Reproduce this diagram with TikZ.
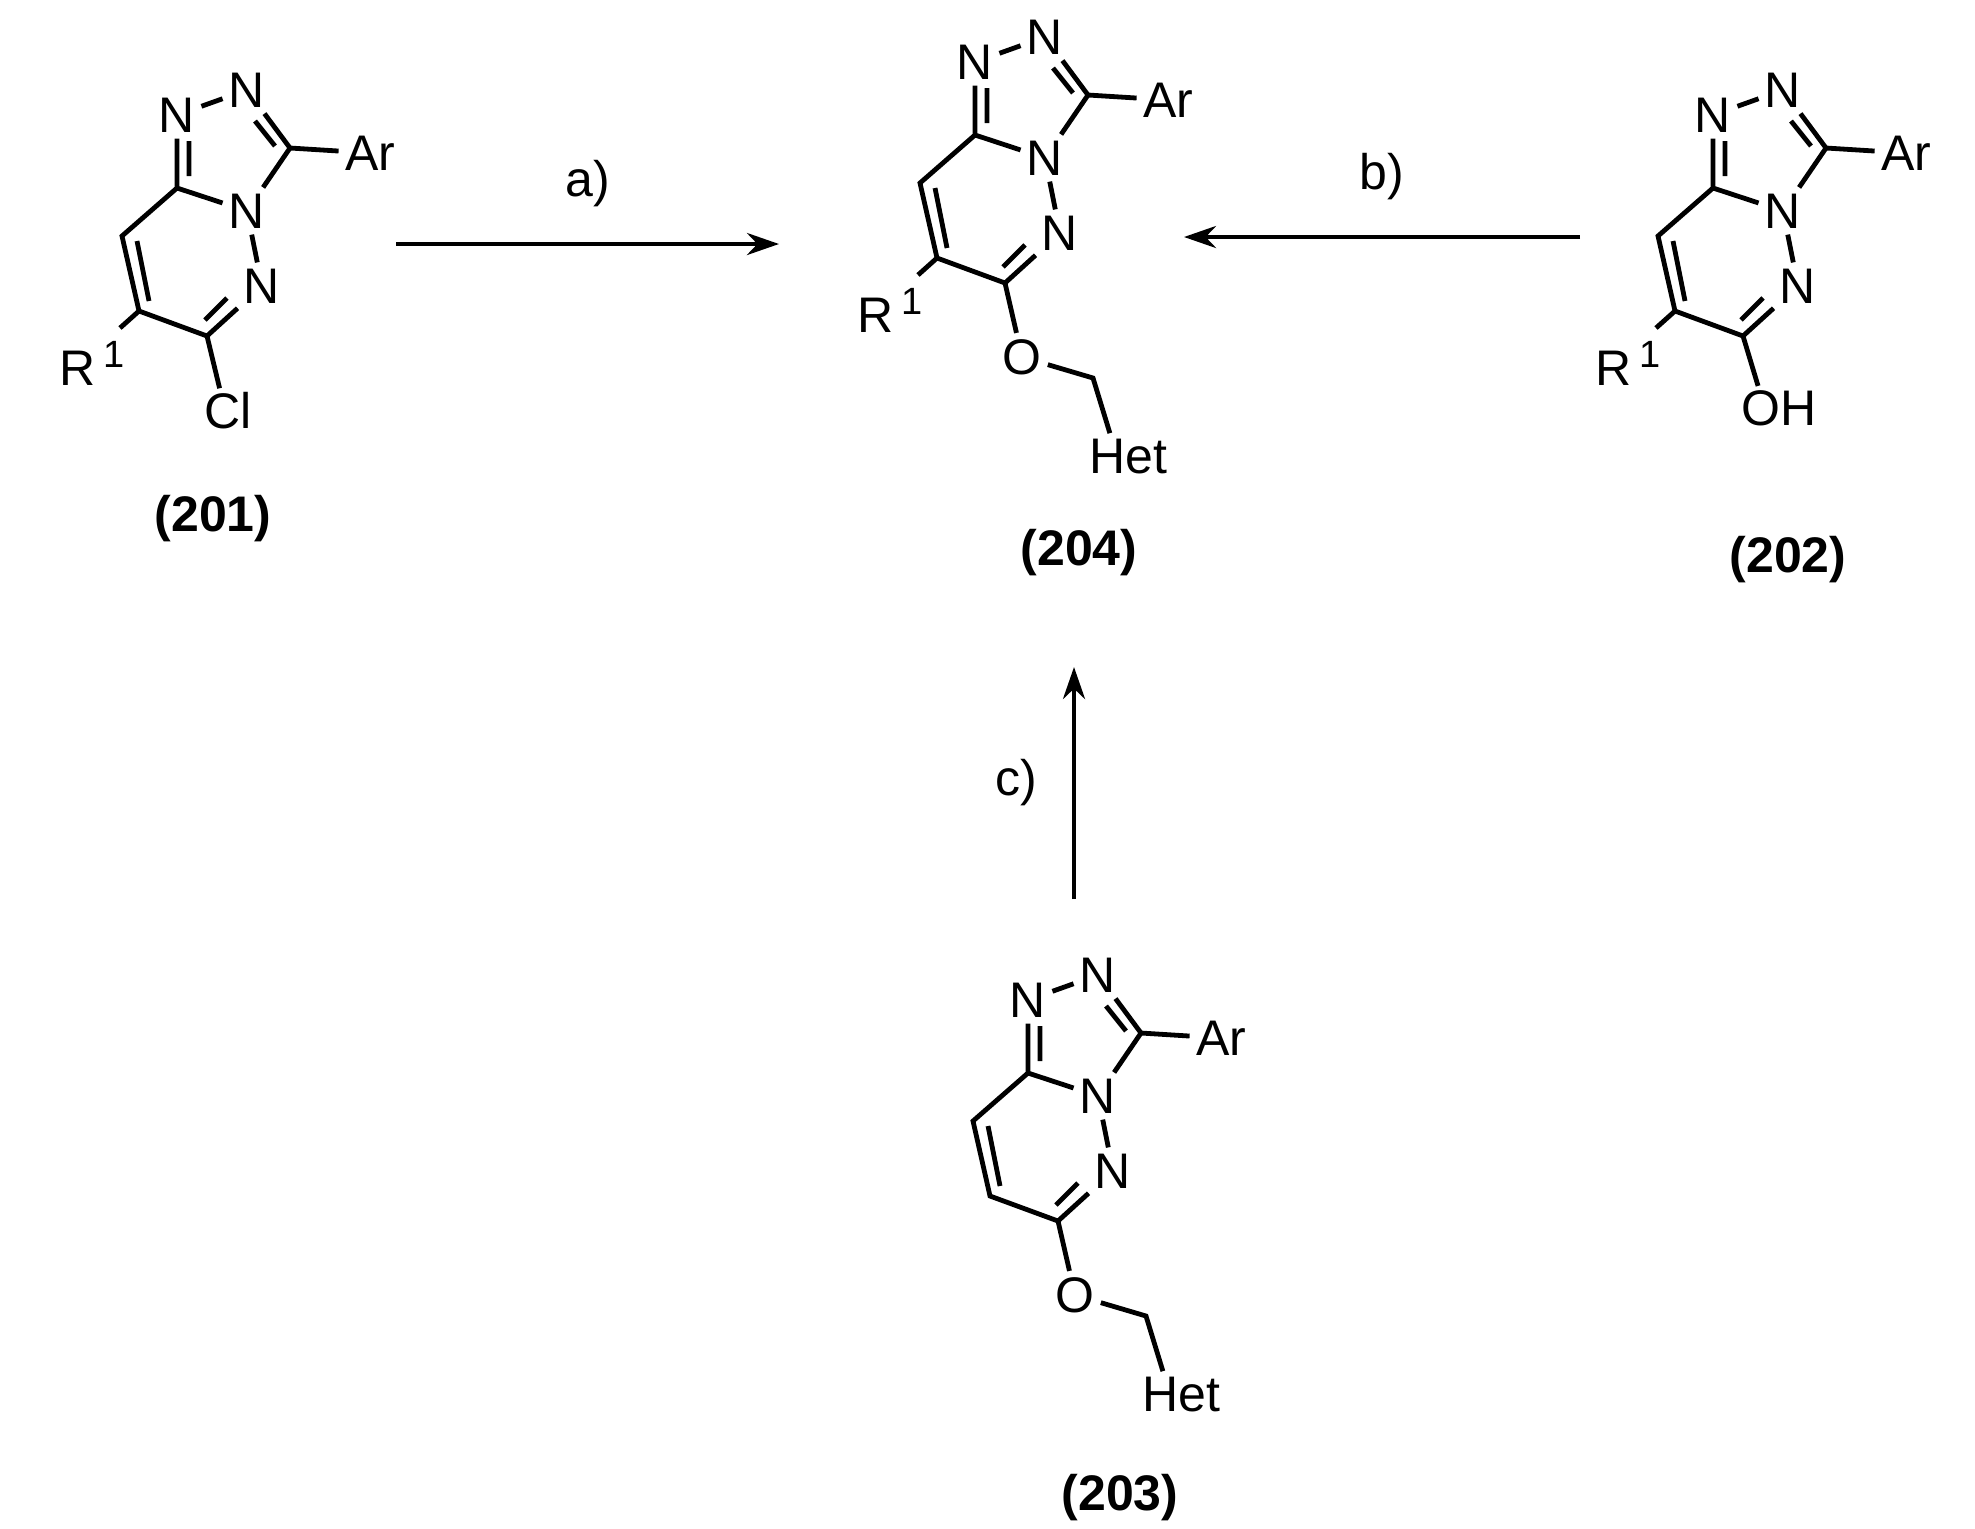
\documentclass[tikz,border=0pt]{standalone}
\usepackage{fontspec}
\setmainfont{Liberation Sans}
\usetikzlibrary{calc,arrows.meta}
\tikzset{atom/.style={inner sep=2pt,font=\fontsize{25}{30}\selectfont},
 lbl/.style={font=\bfseries\fontsize{25}{30}\selectfont},
 cond/.style={font=\fontsize{25}{30}\selectfont},
 bond/.style={line width=2.4pt},
 rxn/.style={line width=2.2pt,-{Stealth[length=16pt,width=11pt]}}}
\newcommand\core[3]{%
\begin{scope}[shift={(#2,#3)},bond]
\coordinate (#1a) at (0,0);
\node[atom] (#1n1) at (0,-73) {N};
\node[atom] (#1n2) at (70,-98) {N};
\coordinate (#1c3) at (113,-40);
\node[atom] (#1ar) at (193,-35) {Ar};
\node[atom] (#1n4) at (70,23) {N};
\node[atom] (#1n5) at (85,98) {N};
\coordinate (#1c6) at (30,148);
\coordinate (#1c7) at (-38,123);
\coordinate (#1c8) at (-55,48);
\draw (#1a)--(#1n1) (#1n1)--(#1n2) (#1n2)--(#1c3)--(#1ar) (#1c3)--(#1n4)--(#1a)
  (#1n4)--(#1n5)--(#1c6)--(#1c7)--(#1c8)--(#1a);
\draw (12,-47)--(12,-12) (78,-67)--(98,-42) (-40,53)--(-28,113) (28,132)--(50,110);
\end{scope}}
\newcommand\rone[3]{%
\begin{scope}[shift={(#2,#3)},bond]
\node[atom,inner sep=0pt] (#1r) at (-85,175) {R\,{\fontsize{19}{22}\selectfont\raisebox{9pt}{1}}};
\coordinate (#1rb) at (-57,140);
\draw (#1c7)--(#1rb);
\end{scope}}
\newcommand\ether[3]{%
\begin{scope}[shift={(#2,#3)},bond]
\node[atom] (#1o) at (47,222) {O};
\coordinate (#1ch) at (118,243);
\node[atom] (#1het) at (153,322) {Het};
\draw (#1c6)--(#1o) (#1o)--(#1ch)--($(#1het.north west)!0.3!(#1het.north east)$);
\end{scope}}
\begin{document}
\begin{tikzpicture}[x=0.5pt,y=-0.5pt]
\useasboundingbox (0,0) rectangle (1975,1528);
\core{p}{177}{188}
\rone{p}{177}{188}
\node[atom] (pcl) at (228,411) {Cl};
\draw[bond] (pc6)--($(pcl.north west)!0.35!(pcl.north east)$);
\node[lbl] (l201) at (213,519) {(201)};
\core{q}{975}{135}
\rone{q}{975}{135}
\ether{q}{975}{135}
\node[lbl] (l204) at (1079,553) {(204)};
\core{s}{1713}{188}
\rone{s}{1713}{188}
\node[atom] (soh) at (1779,408) {OH};
\draw[bond] (sc6)--($(soh.north west)!0.25!(soh.north east)$);
\node[lbl] (l202) at (1788,560) {(202)};
\core{t}{1028}{1073}
\ether{t}{1028}{1073}
\node[lbl] (l203) at (1120,1498) {(203)};
\coordinate (a1) at (396,244); \coordinate (a2) at (779,244);
\draw[rxn] (a1)--(a2) node[cond,midway,above=14pt] {a)};
\coordinate (b1) at (1580,237); \coordinate (b2) at (1184,237);
\draw[rxn] (b1)--(b2) node[cond,midway,above=14pt] {b)};
\coordinate (c1) at (1074,899); \coordinate (c2) at (1074,667);
\draw[rxn] (c1)--(c2) node[cond,midway,left=14pt] {c)};
\end{tikzpicture}
\end{document}
